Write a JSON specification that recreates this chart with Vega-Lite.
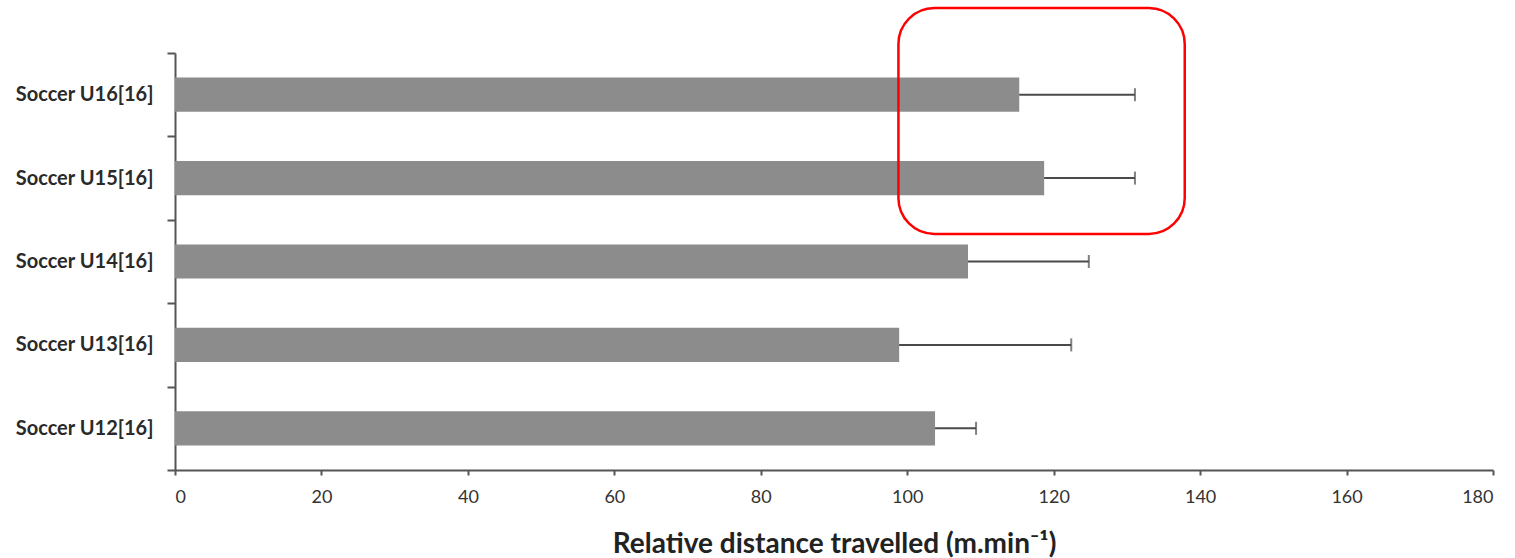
{
  "$schema": "https://vega.github.io/schema/vega-lite/v6.json",
  "width": 1318,
  "height": 417,
  "autosize": {"type": "none"},
  "padding": {"left": 175, "top": 53, "right": 22, "bottom": 88},
  "background": "white",
  "config": {"view": {"stroke": null}, "font": "Lato"},
  "data": {"values": [
    {"group": "Soccer U16[16]", "mean": 115.3, "upper": 131.1},
    {"group": "Soccer U15[16]", "mean": 118.7, "upper": 131.1},
    {"group": "Soccer U14[16]", "mean": 108.3, "upper": 124.8},
    {"group": "Soccer U13[16]", "mean": 98.9, "upper": 122.4},
    {"group": "Soccer U12[16]", "mean": 103.8, "upper": 109.4}
  ]},
  "layer": [
    {
      "layer": [
        {
          "mark": {"type": "bar", "color": "#8c8c8c", "height": {"band": 0.41}},
          "encoding": {
            "y": {"field": "group", "type": "nominal", "sort": null,
              "scale": {"type": "band", "paddingInner": 0, "paddingOuter": 0},
              "axis": {"title": null, "tickBand": "extent", "tickSize": 8, "labelPadding": 14,
                "labelFontSize": 20, "labelFontWeight": "bold", "labelColor": "#2a2a2a", "labelFont": "Lato",
                "domainColor": "#555555", "domainWidth": 2, "tickColor": "#555555", "tickWidth": 2, "grid": false}},
            "x": {"field": "mean", "type": "quantitative",
              "scale": {"domain": [0, 180], "nice": false},
              "axis": {"title": "Relative distance travelled (m.min⁻¹)", "values": [0, 20, 40, 60, 80, 100, 120, 140, 160, 180],
                "tickSize": 5, "labelPadding": 13, "labelFontSize": 18, "labelColor": "#333333", "labelFont": "Lato",
                "titleFont": "Lato", "titleFontSize": 28, "titleFontWeight": "bold", "titleColor": "#222222", "titlePadding": 24,
                "grid": false, "domainColor": "#555555", "domainWidth": 2, "tickColor": "#555555", "tickWidth": 2}}
          }
        },
        {
          "mark": {"type": "rule", "color": "#4a4a4a", "strokeWidth": 2},
          "encoding": {
            "y": {"field": "group", "type": "nominal", "sort": null},
            "x": {"field": "mean", "type": "quantitative"},
            "x2": {"field": "upper"}
          }
        },
        {
          "mark": {"type": "tick", "color": "#4a4a4a", "thickness": 2, "size": 13},
          "encoding": {
            "y": {"field": "group", "type": "nominal", "sort": null},
            "x": {"field": "upper", "type": "quantitative"}
          }
        }
      ]
    },
    {
      "data": {"values": [{}]},
      "mark": {"type": "rect", "fill": null, "stroke": "#ff0000", "strokeWidth": 2.5, "cornerRadius": 36, "clip": false},
      "encoding": {
        "x": {"datum": 98.8, "type": "quantitative"},
        "x2": {"datum": 137.9},
        "y": {"datum": 5.54, "type": "quantitative", "scale": {"domain": [0, 5], "nice": false, "zero": false}, "axis": null},
        "y2": {"datum": 2.83}
      }
    }
  ],
  "resolve": {"scale": {"y": "independent"}}
}
